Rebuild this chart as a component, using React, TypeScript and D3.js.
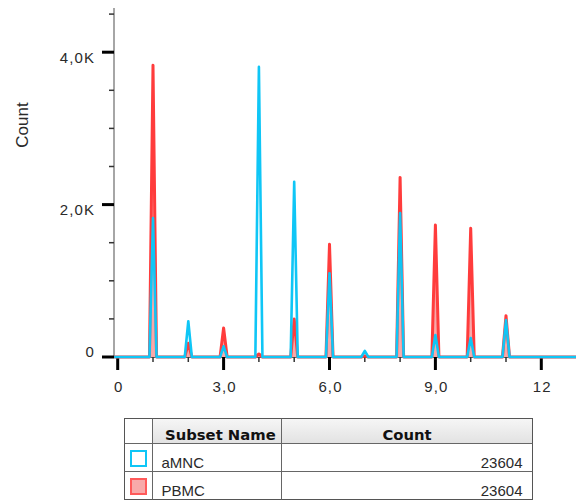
import React from "react";
import * as d3 from "d3";

// spike positions (x value) and the counts of each subset at that position
const spikePositions = [1, 2, 3, 4, 5, 6, 7, 8, 9, 10, 11];
const pbmcCounts = [3830, 180, 380, 40, 500, 1480, 15, 2357, 1731, 1688, 542];
const amncCounts = [1823, 470, 140, 3807, 2300, 1100, 80, 1888, 288, 250, 485];

const xMajorTicks = [0, 3, 6, 9, 12];
const xMinorTicks = [1, 2, 4, 5, 7, 8, 10, 11];
const xTickLabels = ["0", "3,0", "6,0", "9,0", "12"];
const yMajorTicks = [0, 2000, 4000];
const yMinorTicks = [500, 1000, 1500, 2500, 3000, 3500, 4500];
const yTickLabels = ["0", "2,0K", "4,0K"];

const subsetNames = ["aMNC", "PBMC"];
const subsetTotals = [23604, 23604];

const RED = "#ff3c3c";
const PINK = "#f8a9a9";
const BLUE = "#0fc6f6";
const TEXT = "#2a2a2a";
const SANS = "'Liberation Sans', Arial, sans-serif";
const BOLD = "'DejaVu Sans', Verdana, sans-serif";

// turn the spike counts into a histogram outline (zero between spikes)
const toOutline = (counts) => {
  const pts = [[-0.1, 0]];
  spikePositions.forEach((c, i) => {
    pts.push([c - 0.1, 0], [c, counts[i]], [c + 0.1, 0]);
  });
  pts.push([13.1, 0]);
  return pts;
};

const HistogramSvg = ({ width, height }) => {
  const ref = React.useRef(null);

  React.useEffect(() => {
    const svg = d3.select(ref.current);
    svg.selectAll("*").remove();

    const xScale = d3.scaleLinear([0, 13], [117.7, 576.6]);
    const yScale = d3.scaleLinear([0, 4580], [357, 8]);
    const axisX = 114;
    const base = yScale(0);

    // y axis
    svg.append("line")
      .attr("x1", axisX).attr("x2", axisX)
      .attr("y1", yScale(4580)).attr("y2", base)
      .attr("stroke", "#888").attr("stroke-width", 1.5);
    svg.selectAll(".ymin").data(yMinorTicks).enter().append("line")
      .attr("x1", 109).attr("x2", axisX)
      .attr("y1", d => yScale(d)).attr("y2", d => yScale(d))
      .attr("stroke", "#333").attr("stroke-width", 1.5);
    svg.selectAll(".ymaj").data(yMajorTicks).enter().append("line")
      .attr("x1", 102).attr("x2", axisX)
      .attr("y1", d => yScale(d)).attr("y2", d => yScale(d))
      .attr("stroke", "#000").attr("stroke-width", 3);
    svg.selectAll(".ylab").data(yMajorTicks).enter().append("text")
      .attr("x", 95)
      .attr("y", d => (d === 0 ? base - 0.5 : yScale(d) + 10.5))
      .attr("text-anchor", "end")
      .attr("font-family", SANS).attr("font-size", 15)
      .attr("letter-spacing", 1.1)
      .attr("fill", TEXT)
      .text((d, i) => yTickLabels[i]);

    svg.append("text")
      .attr("transform", `translate(28,125) rotate(-90)`)
      .attr("text-anchor", "middle")
      .attr("font-family", SANS).attr("font-size", 17)
      .attr("fill", TEXT)
      .text("Count");

    // x axis
    svg.append("line")
      .attr("x1", axisX).attr("x2", 576)
      .attr("y1", base).attr("y2", base)
      .attr("stroke", "#333").attr("stroke-width", 1.5);
    svg.selectAll(".xmin").data(xMinorTicks).enter().append("line")
      .attr("x1", d => xScale(d)).attr("x2", d => xScale(d))
      .attr("y1", base).attr("y2", base + 5)
      .attr("stroke", "#333").attr("stroke-width", 1.5);
    svg.selectAll(".xmaj").data(xMajorTicks).enter().append("line")
      .attr("x1", d => xScale(d)).attr("x2", d => xScale(d))
      .attr("y1", base).attr("y2", base + 13)
      .attr("stroke", "#000").attr("stroke-width", 3);
    svg.selectAll(".xlab").data(xMajorTicks).enter().append("text")
      .attr("x", d => xScale(d) + 1)
      .attr("y", 392)
      .attr("text-anchor", "middle")
      .attr("font-family", SANS).attr("font-size", 15)
      .attr("letter-spacing", 1.1)
      .attr("fill", TEXT)
      .text((d, i) => xTickLabels[i]);

    // histograms: PBMC filled below, aMNC outline on top
    svg.append("clipPath").attr("id", "plotclip")
      .append("rect").attr("x", axisX).attr("y", 0).attr("width", 576 - axisX).attr("height", base + 3);
    const plot = svg.append("g").attr("clip-path", "url(#plotclip)");
    const area = d3.area().x(d => xScale(d[0])).y0(base).y1(d => yScale(d[1]));
    const line = d3.line().x(d => xScale(d[0])).y(d => yScale(d[1]));
    const pbmc = toOutline(pbmcCounts);
    const amnc = toOutline(amncCounts);
    plot.append("path").attr("d", area(pbmc)).attr("fill", PINK);
    plot.append("path").attr("d", line(pbmc))
      .attr("fill", "none").attr("stroke", RED).attr("stroke-width", 3)
      .attr("stroke-linejoin", "round");
    plot.append("path").attr("d", line(amnc))
      .attr("fill", "none").attr("stroke", BLUE).attr("stroke-width", 2.6)
      .attr("stroke-linejoin", "round");

    // legend table
    const tx = 124.5, ty = 418.5, tw = 408, cols = [152.5, 281.5];
    const rows = [443.5, 471.5, 499.5];
    const grad = svg.append("defs").append("linearGradient")
      .attr("id", "hdr").attr("x1", 0).attr("x2", 0).attr("y1", 0).attr("y2", 1);
    grad.append("stop").attr("offset", 0).attr("stop-color", "#f6f6f6");
    grad.append("stop").attr("offset", 1).attr("stop-color", "#e2e2e2");
    svg.append("rect")
      .attr("x", cols[0]).attr("y", ty).attr("width", tx + tw - cols[0]).attr("height", rows[0] - ty)
      .attr("fill", "url(#hdr)");
    svg.append("rect")
      .attr("x", tx).attr("y", ty).attr("width", tw).attr("height", rows[2] - ty)
      .attr("fill", "none").attr("stroke", "#555").attr("stroke-width", 1);
    cols.forEach(cx => svg.append("line")
      .attr("x1", cx).attr("x2", cx).attr("y1", ty).attr("y2", rows[2])
      .attr("stroke", "#666"));
    rows.slice(0, 2).forEach(ry => svg.append("line")
      .attr("x1", tx).attr("x2", tx + tw).attr("y1", ry).attr("y2", ry)
      .attr("stroke", "#666"));

    svg.append("text").attr("x", 165).attr("y", 440)
      .attr("font-family", BOLD).attr("font-weight", "bold").attr("font-size", 14.8)
      .attr("fill", "#111").text("Subset Name");
    svg.append("text").attr("x", (cols[1] + tx + tw) / 2).attr("y", 440)
      .attr("text-anchor", "middle")
      .attr("font-family", BOLD).attr("font-weight", "bold").attr("font-size", 14.8)
      .attr("fill", "#111").text("Count");

    const swatchStroke = [BLUE, "#ff5a5a"];
    const swatchFill = ["#fff", PINK];
    subsetNames.forEach((name, i) => {
      const top = rows[i];
      svg.append("rect")
        .attr("x", 131).attr("y", top + 7.5).attr("width", 15).attr("height", 15)
        .attr("fill", swatchFill[i]).attr("stroke", swatchStroke[i]).attr("stroke-width", 2);
      svg.append("text").attr("x", 161.5).attr("y", top + 24)
        .attr("font-family", SANS).attr("font-size", 15).attr("fill", TEXT)
        .text(name);
      svg.append("text").attr("x", 522.5).attr("y", top + 24)
        .attr("text-anchor", "end")
        .attr("font-family", SANS).attr("font-size", 15).attr("fill", TEXT)
        .text(String(subsetTotals[i]));
    });
  }, [width, height]);

  return <svg width={width} height={height} ref={ref}
    style={{ position: "absolute", left: 0, top: 0, background: "#fff" }} />;
};

export default function App() {
  return <HistogramSvg width={576} height={502} />;
}
